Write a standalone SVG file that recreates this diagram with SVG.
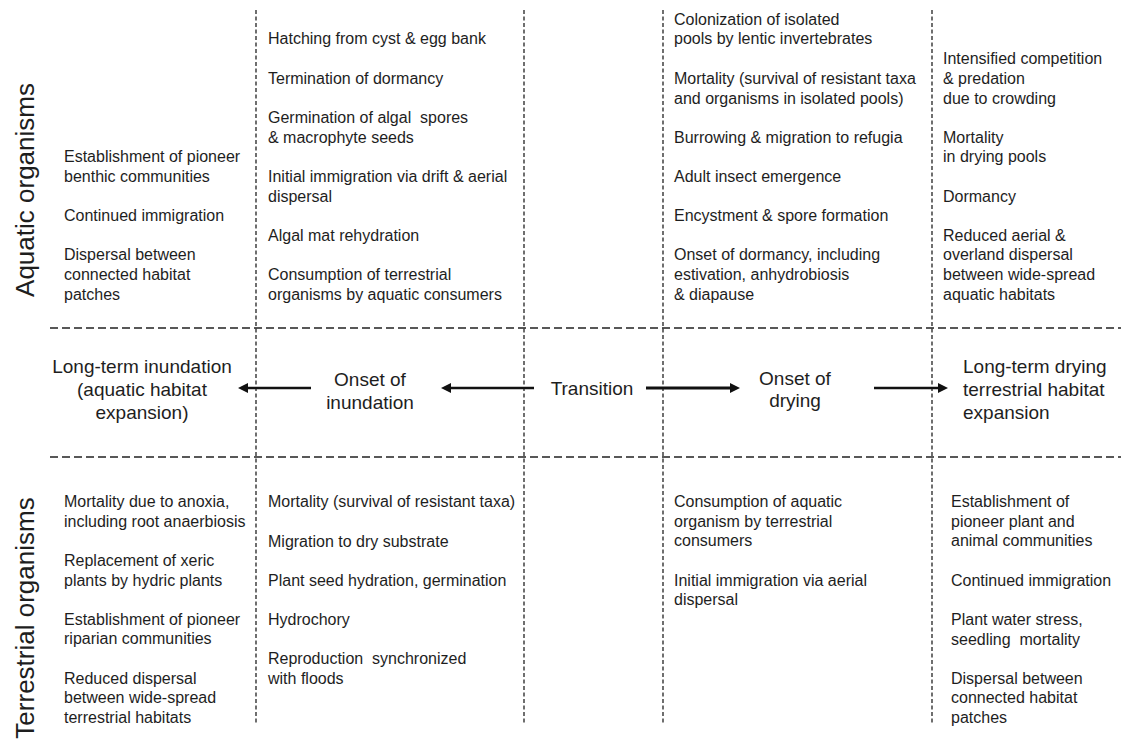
<svg xmlns="http://www.w3.org/2000/svg" width="1121" height="742" viewBox="0 0 1121 742">
<style>
.t{font-family:"Liberation Sans",Arial,sans-serif;font-size:16px;fill:#1e1e1e}
.m{font-family:"Liberation Sans",Arial,sans-serif;font-size:19px;fill:#1e1e1e}
.h{font-family:"Liberation Sans",Arial,sans-serif;font-size:26px;fill:#1e1e1e}
.vl{stroke:#222;stroke-width:1.3;stroke-dasharray:4 2.5;fill:none}
.hl{stroke:#222;stroke-width:1.6;stroke-dasharray:8 4;fill:none}
.ar{stroke:#111;stroke-width:2.5;fill:none}
</style>
<defs>
<marker id="ah" markerUnits="userSpaceOnUse" markerWidth="10" markerHeight="10" refX="2" refY="5" orient="auto">
<path d="M0,0 L10,5 L0,10 z" fill="#111"/>
</marker>
</defs>
<rect width="1121" height="742" fill="#fff"/>
<g id="grid">
<line class="vl" x1="256" y1="10" x2="256" y2="725"/>
<line class="vl" x1="524" y1="10" x2="524" y2="725"/>
<line class="vl" x1="663" y1="10" x2="663" y2="725"/>
<line class="vl" x1="932" y1="10" x2="932" y2="725"/>
<line class="hl" x1="50" y1="328" x2="1121" y2="328"/>
<line class="hl" x1="50" y1="457" x2="1121" y2="457"/>
</g>
<g id="row-aquatic-label"><text class="h" x="34" y="190" text-anchor="middle" transform="rotate(-90 34 190)">Aquatic organisms</text></g>
<g id="row-terrestrial-label"><text class="h" x="34" y="618" text-anchor="middle" transform="rotate(-90 34 618)">Terrestrial organisms</text></g>
<g id="aq-longterm-inundation" class="t">
<text class="t" x="64" y="162">Establishment of pioneer</text>
<text class="t" x="64" y="182">benthic communities</text>
<text class="t" x="64" y="221">Continued immigration</text>
<text class="t" x="64" y="260">Dispersal between</text>
<text class="t" x="64" y="280">connected habitat</text>
<text class="t" x="64" y="300">patches</text>
</g>
<g id="aq-onset-inundation">
<text class="t" x="268" y="44">Hatching from cyst &amp; egg bank</text>
<text class="t" x="268" y="84">Termination of dormancy</text>
<text class="t" x="268" y="123" xml:space="preserve">Germination of algal  spores</text>
<text class="t" x="268" y="143">&amp; macrophyte seeds</text>
<text class="t" x="268" y="182">Initial immigration via drift &amp; aerial</text>
<text class="t" x="268" y="202">dispersal</text>
<text class="t" x="268" y="241">Algal mat rehydration</text>
<text class="t" x="268" y="280">Consumption of terrestrial</text>
<text class="t" x="268" y="300">organisms by aquatic consumers</text>
</g>
<g id="aq-onset-drying">
<text class="t" x="674" y="25">Colonization of isolated</text>
<text class="t" x="674" y="44">pools by lentic invertebrates</text>
<text class="t" x="674" y="84">Mortality (survival of resistant taxa</text>
<text class="t" x="674" y="104">and organisms in isolated pools)</text>
<text class="t" x="674" y="143">Burrowing &amp; migration to refugia</text>
<text class="t" x="674" y="182">Adult insect emergence</text>
<text class="t" x="674" y="221">Encystment &amp; spore formation</text>
<text class="t" x="674" y="260">Onset of dormancy, including</text>
<text class="t" x="674" y="280">estivation, anhydrobiosis</text>
<text class="t" x="674" y="300">&amp; diapause</text>
</g>
<g id="aq-longterm-drying">
<text class="t" x="943" y="64">Intensified competition</text>
<text class="t" x="943" y="84">&amp; predation</text>
<text class="t" x="943" y="104">due to crowding</text>
<text class="t" x="943" y="143">Mortality</text>
<text class="t" x="943" y="162">in drying pools</text>
<text class="t" x="943" y="202">Dormancy</text>
<text class="t" x="943" y="241">Reduced aerial &amp;</text>
<text class="t" x="943" y="260">overland dispersal</text>
<text class="t" x="943" y="280">between wide-spread</text>
<text class="t" x="943" y="300">aquatic habitats</text>
</g>
<g id="long-term-inundation">
<text class="m" x="142" y="373" text-anchor="middle">Long-term inundation</text>
<text class="m" x="142" y="396" text-anchor="middle">(aquatic habitat</text>
<text class="m" x="142" y="419" text-anchor="middle">expansion)</text>
</g>
<g id="onset-of-inundation">
<text class="m" x="370" y="386" text-anchor="middle">Onset of</text>
<text class="m" x="370" y="409" text-anchor="middle">inundation</text>
</g>
<g id="transition"><text class="m" x="592" y="395" text-anchor="middle">Transition</text></g>
<g id="onset-of-drying">
<text class="m" x="795" y="385" text-anchor="middle">Onset of</text>
<text class="m" x="795" y="407" text-anchor="middle">drying</text>
</g>
<g id="long-term-drying">
<text class="m" x="963" y="373">Long-term drying</text>
<text class="m" x="963" y="396">terrestrial habitat</text>
<text class="m" x="963" y="419">expansion</text>
</g>
<g id="connectors">
<line class="ar" x1="311" y1="388" x2="246" y2="388" marker-end="url(#ah)"/>
<line class="ar" x1="534" y1="388" x2="449" y2="388" marker-end="url(#ah)"/>
<line class="ar" x1="646" y1="388" x2="732" y2="388" marker-end="url(#ah)" style="stroke-width:3"/>
<line class="ar" x1="874" y1="388" x2="940" y2="388" marker-end="url(#ah)"/>
</g>
<g id="te-longterm-inundation">
<text class="t" x="64" y="507">Mortality due to anoxia,</text>
<text class="t" x="64" y="527">including root anaerbiosis</text>
<text class="t" x="64" y="566">Replacement of xeric</text>
<text class="t" x="64" y="586">plants by hydric plants</text>
<text class="t" x="64" y="625">Establishment of pioneer</text>
<text class="t" x="64" y="644">riparian communities</text>
<text class="t" x="64" y="684">Reduced dispersal</text>
<text class="t" x="64" y="703">between wide-spread</text>
<text class="t" x="64" y="723">terrestrial habitats</text>
</g>
<g id="te-onset-inundation">
<text class="t" x="268" y="507">Mortality (survival of resistant taxa)</text>
<text class="t" x="268" y="547">Migration to dry substrate</text>
<text class="t" x="268" y="586">Plant seed hydration, germination</text>
<text class="t" x="268" y="625">Hydrochory</text>
<text class="t" x="268" y="664" xml:space="preserve">Reproduction  synchronized</text>
<text class="t" x="268" y="684">with floods</text>
</g>
<g id="te-onset-drying">
<text class="t" x="674" y="507">Consumption of aquatic</text>
<text class="t" x="674" y="527">organism by terrestrial</text>
<text class="t" x="674" y="546">consumers</text>
<text class="t" x="674" y="586">Initial immigration via aerial</text>
<text class="t" x="674" y="605">dispersal</text>
</g>
<g id="te-longterm-drying">
<text class="t" x="951" y="507">Establishment of</text>
<text class="t" x="951" y="527">pioneer plant and</text>
<text class="t" x="951" y="546">animal communities</text>
<text class="t" x="951" y="586">Continued immigration</text>
<text class="t" x="951" y="625">Plant water stress,</text>
<text class="t" x="951" y="645" xml:space="preserve">seedling  mortality</text>
<text class="t" x="951" y="684">Dispersal between</text>
<text class="t" x="951" y="703">connected habitat</text>
<text class="t" x="951" y="723">patches</text>
</g>
</svg>
